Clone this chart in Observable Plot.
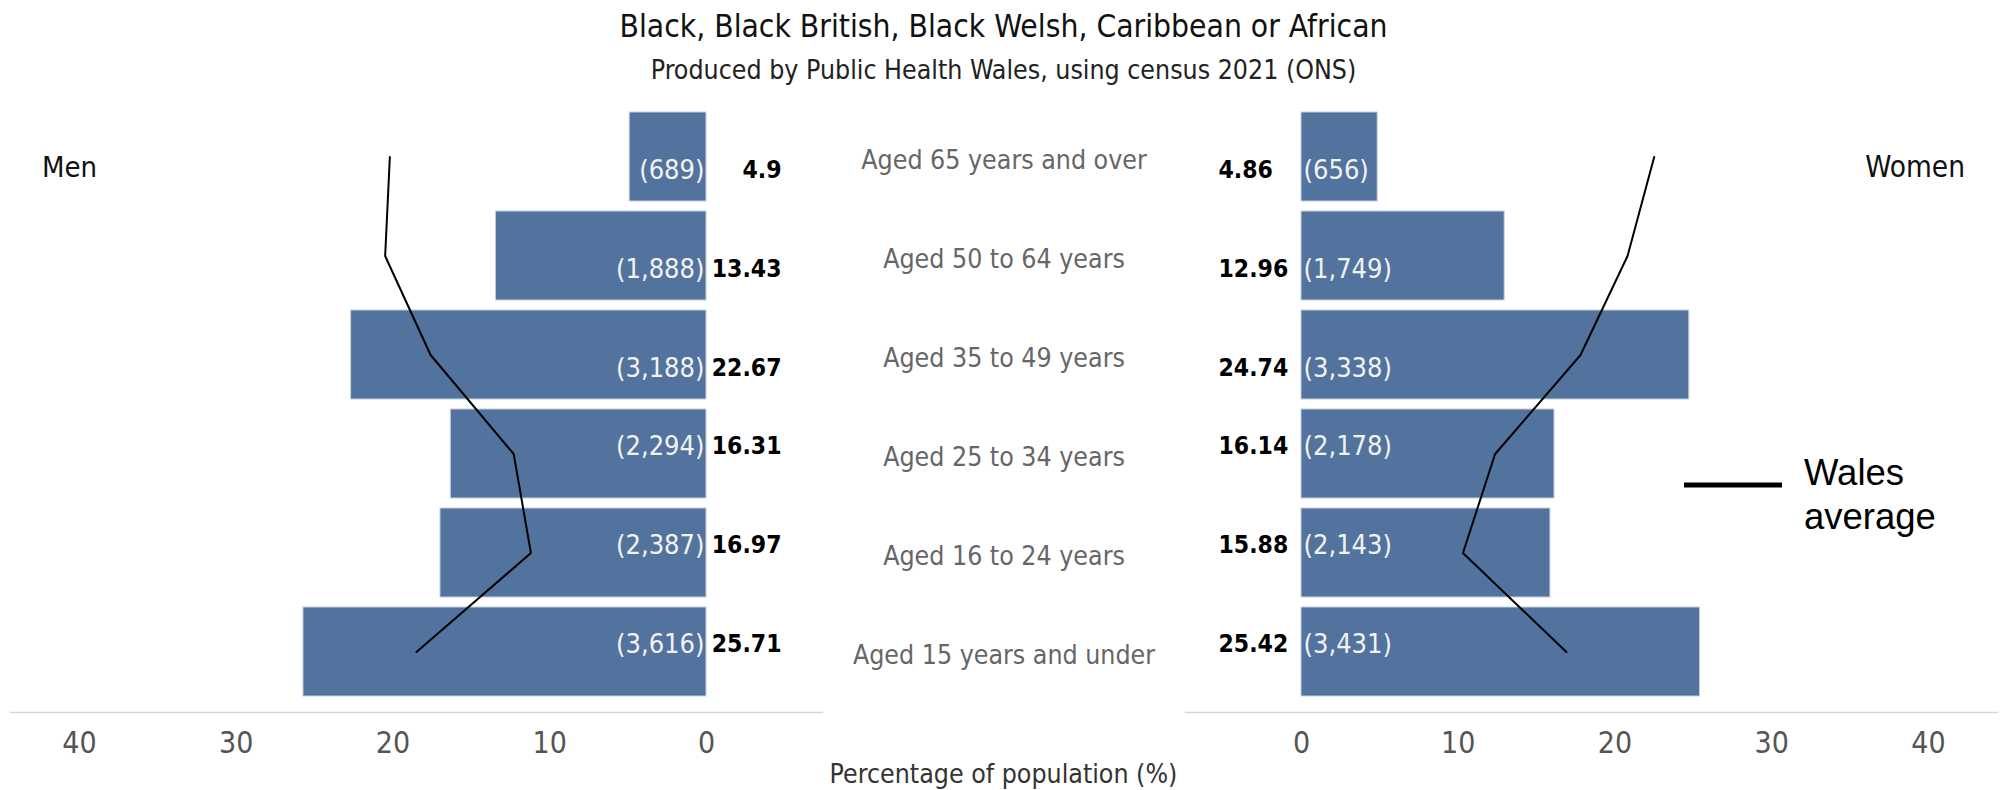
<!DOCTYPE html>
<html>
<head>
<meta charset="utf-8">
<script src="https://cdn.jsdelivr.net/npm/d3@7"></script>
<script src="https://cdn.jsdelivr.net/npm/@observablehq/plot@0.6"></script>
<style>
  html, body { margin: 0; padding: 0; background: #fff; }
  #root { position: relative; width: 2007px; height: 790px; overflow: hidden; background: #fff;
    font-family: "DejaVu Sans Condensed", "Liberation Sans Narrow", "Roboto Condensed", "DejaVu Sans", sans-serif; }
  .abs { position: absolute; white-space: nowrap; }
  #root svg { position: absolute; }
</style>
</head>
<body>
<div id="root"></div>
<script>
// ---- data ----
const ages = ["Aged 65 years and over", "Aged 50 to 64 years", "Aged 35 to 49 years",
              "Aged 25 to 34 years", "Aged 16 to 24 years", "Aged 15 years and under"];
const menPct = [4.9, 13.43, 22.67, 16.31, 16.97, 25.71];
const menCount = [689, 1888, 3188, 2294, 2387, 3616];
const womenPct = [4.86, 12.96, 24.74, 16.14, 15.88, 25.42];
const womenCount = [656, 1749, 3338, 2178, 2143, 3431];
const menWales = [20.2, 20.5, 17.6, 12.3, 11.2, 18.5];
const womenWales = [22.5, 20.8, 17.8, 12.35, 10.3, 16.9];
const xTicks = [0, 10, 20, 30, 40];
const titleText = "Black, Black British, Black Welsh, Caribbean or African";
const subtitleText = "Produced by Public Health Wales, using census 2021 (ONS)";
const xLabel = "Percentage of population (%)";

// ---- build ----
const FONT = '"DejaVu Sans Condensed", "Liberation Sans Narrow", "Roboto Condensed", "DejaVu Sans", sans-serif';
const BAR = "#52739e";
const fmt = d3.format(",");
const men = ages.map((a, i) => ({age: a, pct: menPct[i], count: menCount[i], wales: menWales[i], i}));
const women = ages.map((a, i) => ({age: a, pct: womenPct[i], count: womenCount[i], wales: womenWales[i], i}));

const root = document.getElementById("root");
const SVG_TOP = 80;
const yScale = {domain: ages, range: [26, 623], paddingInner: 0.1, paddingOuter: 0.05, axis: null};
const common = {
  width: 832, height: 700, marginTop: 0, marginBottom: 68, marginLeft: 10, marginRight: 10,
  style: {background: "transparent", fontFamily: FONT, overflow: "visible"}
};

function panel(data, side) {
  const left = side === "men";
  return Plot.plot({
    ...common,
    x: {domain: left ? [44.4, -7.4] : [-7.4, 44.4], axis: null},
    y: yScale,
    marks: [
      Plot.barX(data, {x1: 0, x2: "pct", y: "age", fill: BAR, stroke: "#c3cee0", strokeWidth: 1}),
      Plot.frame({anchor: "bottom", stroke: "#d6d6d6", strokeWidth: 1.5}),
      Plot.axisX({ticks: xTicks, tickSize: 0, tickPadding: 19, fontSize: 30, fill: "#555", tickFormat: d => String(d)}),
      Plot.line(data, {x: "wales", y: "age", stroke: "#000", strokeWidth: 2}),
      // labels: top three rows sit low in the band, bottom three a little high
      ...[[d => d.i < 3, 13], [d => d.i >= 3, -8]].map(([f, dy]) => [
        Plot.text(data.filter(f), {x: 0, y: "age", text: d => `(${fmt(d.count)})`, textAnchor: left ? "end" : "start",
          dx: left ? -2 : 2, dy, fill: "#f2f2f2", fontSize: 27}),
        Plot.text(data.filter(f), {x: 0, y: "age", text: d => String(d.pct), textAnchor: left ? "end" : "start",
          dx: left ? 75 : -83, dy, fill: "#000", fontWeight: "bold", fontSize: 24.5})
      ]).flat()
    ]
  });
}

const menSvg = panel(men, "men");
menSvg.style.left = "0px"; menSvg.style.top = SVG_TOP + "px";
root.appendChild(menSvg);

const centerSvg = Plot.plot({
  ...common, width: 363, marginLeft: 0, marginRight: 0,
  y: yScale,
  marks: [
    Plot.text(ages, {y: d => d, text: d => d, frameAnchor: "middle", fill: "#666", fontSize: 26.5, dy: 3})
  ]
});
centerSvg.style.left = "822px"; centerSvg.style.top = SVG_TOP + "px";
root.appendChild(centerSvg);

const womenSvg = panel(women, "women");
womenSvg.style.left = "1175px"; womenSvg.style.top = SVG_TOP + "px";
root.appendChild(womenSvg);

function addText(txt, css) {
  const d = document.createElement("div");
  d.className = "abs";
  d.textContent = txt;
  Object.assign(d.style, css);
  root.appendChild(d);
  return d;
}
addText(titleText, {left: "0px", width: "2007px", textAlign: "center", top: "8px", fontSize: "31.5px", color: "#111"});
addText(subtitleText, {left: "0px", width: "2007px", textAlign: "center", top: "54px", fontSize: "26.5px", color: "#222"});
addText("Men", {left: "42px", top: "150px", fontSize: "29px", color: "#111"});
addText("Women", {right: "42px", top: "150px", fontSize: "29.5px", color: "#111"});
addText(xLabel, {left: "0px", width: "2007px", textAlign: "center", top: "758px", fontSize: "26.5px", color: "#333"});

// legend
const leg = document.createElement("div");
leg.className = "abs";
Object.assign(leg.style, {left: "1684px", top: "451px", fontFamily: '"Liberation Sans", Arial, sans-serif', fontSize: "36.5px", color: "#000", lineHeight: "44px"});
leg.innerHTML = '<svg width="100" height="10" style="position:absolute;left:0;top:29px"><line x1="0" x2="98" y1="5" y2="5" stroke="#000" stroke-width="5"/></svg>' +
  '<div style="position:absolute;left:120px;top:0">Wales<br>average</div>';
root.appendChild(leg);
</script>
</body>
</html>
